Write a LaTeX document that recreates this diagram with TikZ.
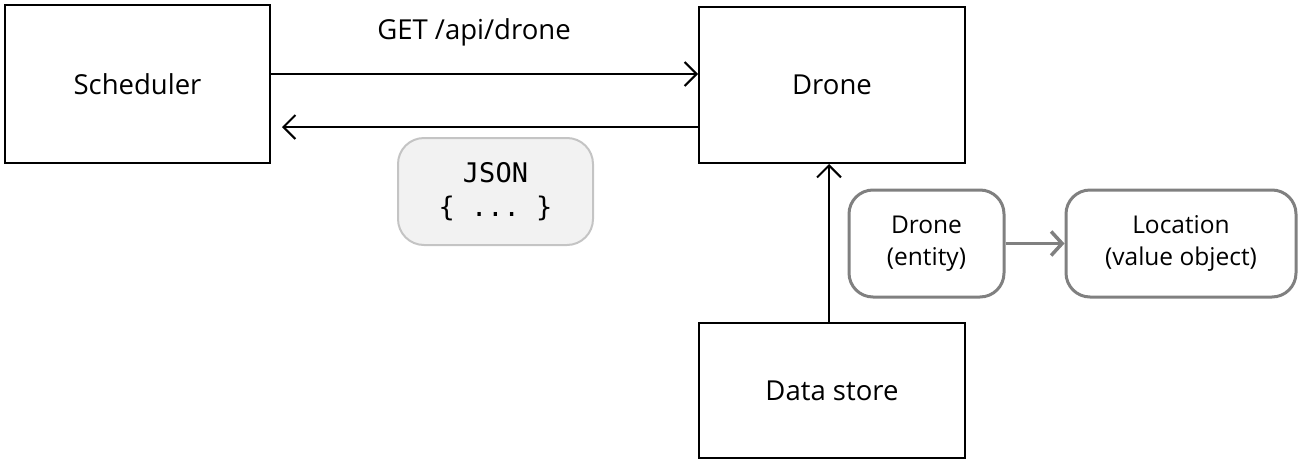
\documentclass[tikz,border=0pt]{standalone}
\usepackage{fontspec}
\setmainfont{Open Sans}
\setmonofont{DejaVu Sans Mono}
\usetikzlibrary{arrows.meta}
\definecolor{edgegray}{HTML}{808080}
\definecolor{jsonborder}{HTML}{C4C4C4}
\definecolor{jsonfill}{HTML}{F2F2F2}
\begin{document}
\begin{tikzpicture}[x=1pt,y=-1pt,
  box/.style={draw=black,line width=2pt,inner sep=0pt,font=\fontsize{27.5}{32}\selectfont},
  soft/.style={draw=edgegray,line width=3pt,rounded corners=24pt,inner sep=0pt,align=center,font=\fontsize{24.5}{32}\selectfont},
  jsonbox/.style={draw=jsonborder,fill=jsonfill,line width=2pt,rounded corners=26pt,inner sep=0pt,align=center,font=\ttfamily\fontsize{27}{34}\selectfont},
  arr/.style={line width=2pt,-{Straight Barb[length=12pt,width=24pt,line width=2pt]}},
  garr/.style={draw=edgegray,line width=3.5pt,-{Straight Barb[length=11pt,width=24pt,line width=3.5pt]}}
]
\useasboundingbox (0,0) rectangle (1301,461);
\node[box,minimum width=265pt,minimum height=158pt] (S) at (137.5,84) {Scheduler};
\node[box,minimum width=266pt,minimum height=156pt] (D) at (832,85) {Drone};
\node[box,minimum width=266pt,minimum height=135pt] (DS) at (832,390.5) {Data store};
\node[jsonbox,minimum width=195pt,minimum height=107pt] (J) at (495.5,191.5) {JSON\\\{ ... \}};
\node[soft,minimum width=155pt,minimum height=107pt] (E) at (926.5,243.5) {Drone\\(entity)};
\node[soft,minimum width=230pt,minimum height=107pt] (L) at (1181,243.5) {Location\\(value object)};
\node[font=\fontsize{27.5}{32}\selectfont] (G) at (474,32) {GET /api/drone};
\draw[arr] (S.east |- 0,74) -- (D.west |- 0,74);
\coordinate (Ret) at (282,127);
\draw[arr] (D.west |- 0,127) -- (Ret);
\draw[arr] (DS.north -| 829,0) -- (D.south -| 829,0);
\draw[garr] (E.east) -- (L.west);
\end{tikzpicture}
\end{document}
